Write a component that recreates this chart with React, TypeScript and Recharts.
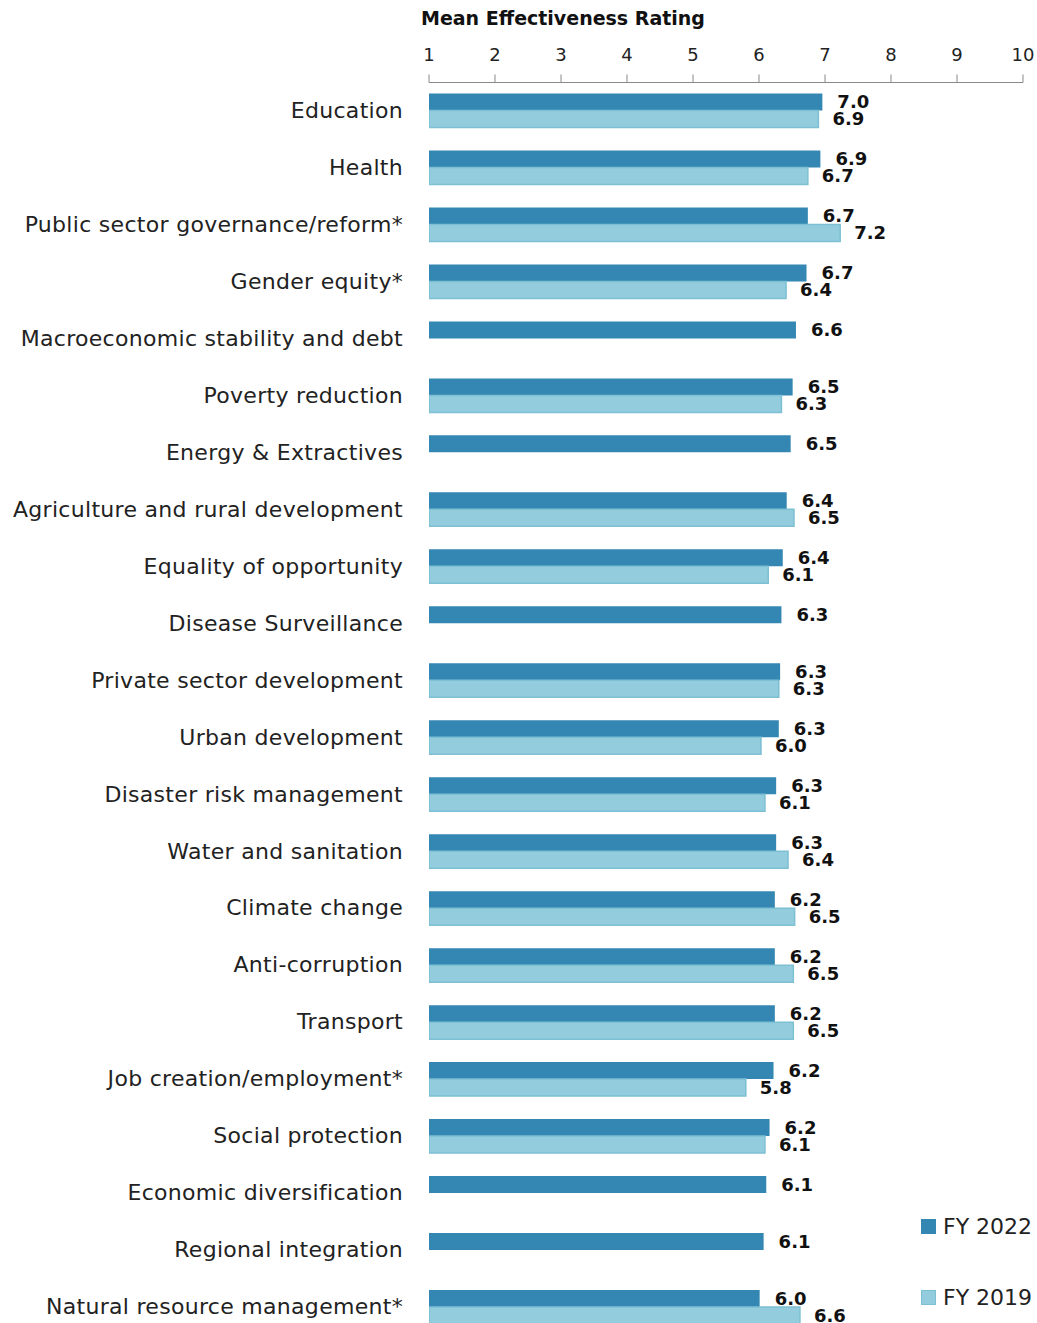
import React from 'react';
import { BarChart, Bar, XAxis, YAxis, LabelList, Legend } from 'recharts';

const categories = [
  'Education',
  'Health',
  'Public sector governance/reform*',
  'Gender equity*',
  'Macroeconomic stability and debt',
  'Poverty reduction',
  'Energy & Extractives',
  'Agriculture and rural development',
  'Equality of opportunity',
  'Disease Surveillance',
  'Private sector development',
  'Urban development',
  'Disaster risk management',
  'Water and sanitation',
  'Climate change',
  'Anti-corruption',
  'Transport',
  'Job creation/employment*',
  'Social protection',
  'Economic diversification',
  'Regional integration',
  'Natural resource management*',
];

const fy2022: (number | null)[] = [
  6.96, 6.93, 6.74, 6.72, 6.56, 6.51, 6.48, 6.42, 6.36, 6.34, 6.32,
  6.3, 6.26, 6.26, 6.24, 6.24, 6.24, 6.22, 6.16, 6.11, 6.07, 6.01,
];

const fy2019: (number | null)[] = [
  6.9, 6.74, 7.23, 6.41, null, 6.34, null, 6.53, 6.14, null, 6.3,
  6.03, 6.09, 6.44, 6.54, 6.52, 6.52, 5.8, 6.09, null, null, 6.62,
];

const axisTicks = [1, 2, 3, 4, 5, 6, 7, 8, 9, 10];
const seriesNames = ['FY 2022', 'FY 2019'];
const axisTitle = 'Mean Effectiveness Rating';

const DARK = '#3387B2';
const LIGHT = '#93CDDD';
const LIGHT_STROKE = '#7DBFD3';
const FONT = '"DejaVu Sans", sans-serif';

const data = categories.map((name, i) => {
  const row: Record<string, any> = { name };
  if (fy2022[i] != null) row.fy2022 = fy2022[i];
  if (fy2019[i] != null) row.fy2019 = fy2019[i];
  return row;
});

const fmt = (v: any) => (v == null ? '' : Number(v).toFixed(1));

const AxisTitle = (props: any) => {
  const vb = props.viewBox || { x: 429, y: 0 };
  return (
    <text
      x={vb.x - 8}
      y={vb.y + 25}
      fontFamily={FONT}
      fontWeight="bold"
      fontSize={19}
      fill="#111"
    >
      {axisTitle}
    </text>
  );
};

const renderLegend = (props: any) => {
  const payload = (props.payload || []).slice();
  payload.sort(
    (a: any, b: any) => seriesNames.indexOf(a.value) - seriesNames.indexOf(b.value)
  );
  return (
    <div style={{ fontFamily: FONT, fontSize: 22, color: '#222' }}>
      {payload.map((entry: any, i: number) => {
        const isDark = entry.value === seriesNames[0];
        return (
          <div
            key={i}
            style={{
              display: 'flex',
              alignItems: 'center',
              height: 30,
              marginBottom: 41,
            }}
          >
            <span
              style={{
                display: 'inline-block',
                boxSizing: 'border-box',
                width: 15,
                height: 15,
                background: isDark ? DARK : LIGHT,
                border: isDark ? 'none' : `1.5px solid ${LIGHT_STROKE}`,
                marginRight: 7,
              }}
            />
            <span>{entry.value}</span>
          </div>
        );
      })}
    </div>
  );
};

export default function App() {
  return (
    <div
      style={{
        position: 'absolute',
        left: 0,
        top: 0,
        width: 1037,
        height: 1323,
        overflow: 'hidden',
        background: '#fff',
      }}
    >
      <BarChart
        width={1037}
        height={1336}
        data={data}
        layout="vertical"
        margin={{ top: 0, right: 14, bottom: 0, left: 0 }}
        barGap={0}
        barSize={17}
      >
        <XAxis
          type="number"
          orientation="top"
          domain={[1, 10]}
          ticks={axisTicks}
          allowDataOverflow
          height={82.5}
          tickSize={8}
          tickMargin={14}
          stroke="#8a8a8a"
          tick={{ fill: '#222', fontFamily: FONT, fontSize: 18 }}
          label={<AxisTitle />}
        />
        <YAxis
          type="category"
          dataKey="name"
          width={429}
          axisLine={false}
          tickLine={false}
          tickSize={0}
          tickMargin={26}
          interval={0}
          tick={{ fill: '#222', fontFamily: FONT, fontSize: 22, letterSpacing: 0.3, dy: -1 } as any}
        />
        <Legend
          layout="vertical"
          align="center"
          verticalAlign="middle"
          content={renderLegend}
          wrapperStyle={{ left: 921, top: 1211, width: 116, height: 'auto' }}
        />
        <Bar dataKey="fy2022" name={seriesNames[0]} fill={DARK} isAnimationActive={false}>
          <LabelList
            dataKey="fy2022"
            position="right"
            offset={15}
            formatter={fmt}
            fill="#111"
            fontFamily={FONT}
            fontWeight="bold"
            fontSize={18}
          />
        </Bar>
        <Bar
          dataKey="fy2019"
          name={seriesNames[1]}
          fill={LIGHT}
          stroke={LIGHT_STROKE}
          strokeWidth={1.5}
          isAnimationActive={false}
        >
          <LabelList
            dataKey="fy2019"
            position="right"
            offset={14}
            formatter={fmt}
            fill="#111"
            fontFamily={FONT}
            fontWeight="bold"
            fontSize={18}
          />
        </Bar>
      </BarChart>
    </div>
  );
}
